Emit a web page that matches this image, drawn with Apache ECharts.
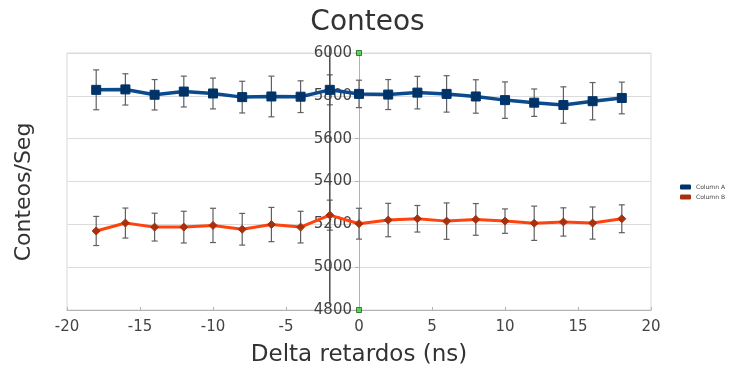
<!DOCTYPE html>
<html><head><meta charset="utf-8">
<script src="https://cdn.jsdelivr.net/npm/echarts@6/dist/echarts.min.js"></script>
<style>html,body{margin:0;padding:0;background:#fff}#c{width:735px;height:372px}</style>
</head><body><div id="c"></div>
<script>
// ---- data ----
const titleText = 'Conteos';
const xName = 'Delta retardos (ns)';
const yName = 'Conteos/Seg';
const seriesNames = ['Column A', 'Column B'];
const xValues = [-18, -16, -14, -12, -10, -8, -6, -4, -2, 0, 2, 4, 6, 8, 10, 12, 14, 16, 18];
const columnA = [5828, 5830, 5805, 5820, 5811, 5794, 5797, 5796, 5828, 5809, 5806, 5815, 5809, 5797, 5780, 5768, 5757, 5775, 5790];
const errorA  = [93, 73, 71, 72, 72, 74, 95, 74, 70, 64, 70, 76, 85, 78, 85, 64, 85, 87, 74];
const columnB = [5169, 5206, 5187, 5187, 5195, 5177, 5199, 5187, 5243, 5203, 5220, 5226, 5215, 5223, 5215, 5205, 5211, 5206, 5226];
const errorB  = [68, 70, 65, 74, 80, 74, 80, 74, 70, 72, 78, 62, 85, 74, 57, 80, 66, 75, 65];
const xMin = -20, xMax = 20, xStep = 5;
const yMin = 4800, yMax = 6000, yStep = 200;
const darkLine = [[-2, 4825, 6030]];          // dark vertical line in the reference
const handlePoints = [[0, 6000], [0, 4800]]; // green selection handles

// ---- build ----
const pairsA = xValues.map((x, i) => [x, columnA[i]]);
const pairsB = xValues.map((x, i) => [x, columnB[i]]);
const errDataA = xValues.map((x, i) => [x, columnA[i] - errorA[i], columnA[i] + errorA[i]]);
const errDataB = xValues.map((x, i) => [x, columnB[i] - errorB[i], columnB[i] + errorB[i]]);

function errRender(params, api) {
  const x = api.value(0), lo = api.value(1), hi = api.value(2);
  const p1 = api.coord([x, hi]), p2 = api.coord([x, lo]);
  const w = 3;
  const st = { stroke: '#606060', lineWidth: 1.2 };
  return { type: 'group', children: [
    { type: 'line', shape: { x1: p1[0], y1: p1[1], x2: p2[0], y2: p2[1] }, style: st },
    { type: 'line', shape: { x1: p1[0] - w, y1: p1[1], x2: p1[0] + w, y2: p1[1] }, style: st },
    { type: 'line', shape: { x1: p2[0] - w, y1: p2[1], x2: p2[0] + w, y2: p2[1] }, style: st }
  ]};
}
function vlineRender(params, api) {
  const x = api.value(0);
  const p1 = api.coord([x, api.value(2)]), p2 = api.coord([x, api.value(1)]);
  return { type: 'line', shape: { x1: p1[0], y1: p1[1], x2: p2[0], y2: p2[1] },
    style: { stroke: '#4d4d4d', lineWidth: 1.5 } };
}

const W = 735, gridLeft = 67, gridRight = 84;
// y axis sits at x = 0 of the x range
const yAxisOffset = -((W - gridLeft - gridRight) * (0 - xMin) / (xMax - xMin));

const font = 'DejaVu Sans';
const chart = echarts.init(document.getElementById('c'), null, { renderer: 'canvas' });
chart.setOption({
  animation: false,
  backgroundColor: '#fff',
  title: { text: titleText, left: 'center', top: 4,
    textStyle: { fontFamily: font, fontSize: 28, fontWeight: 'normal', color: '#333' } },
  legend: {
    data: seriesNames, orient: 'vertical', left: 675, top: 179,
    itemWidth: 11, itemHeight: 5, itemGap: 4, icon: 'roundRect',
    textStyle: { fontFamily: font, fontSize: 6, color: '#444' }
  },
  graphic: [{
    type: 'text', x: 24, y: 192, rotation: Math.PI / 2,
    style: { text: yName, fontFamily: font, fontSize: 22, fill: '#333', align: 'center', verticalAlign: 'middle' }
  }],
  grid: { left: gridLeft, right: gridRight, top: 53, bottom: 61, show: true, borderColor: '#d8d8d8', borderWidth: 1 },
  xAxis: {
    type: 'value', min: xMin, max: xMax, interval: xStep,
    name: xName, nameLocation: 'middle', nameGap: 34,
    nameTextStyle: { fontFamily: font, fontSize: 23, color: '#333' },
    axisLine: { show: true, onZero: false, lineStyle: { color: '#b3b3b3', width: 1 } },
    axisTick: { show: true, inside: true, length: 3, lineStyle: { color: '#b3b3b3' } },
    axisLabel: { fontFamily: font, fontSize: 15, color: '#444', margin: 10 },
    splitLine: { show: false }
  },
  yAxis: {
    type: 'value', min: yMin, max: yMax, interval: yStep, position: 'left', offset: yAxisOffset,
    axisLine: { show: true, onZero: false, lineStyle: { color: '#b3b3b3', width: 1 } },
    axisTick: { show: true, length: 4, lineStyle: { color: '#b3b3b3' } },
    axisLabel: { fontFamily: font, fontSize: 15, color: '#444', margin: 7, formatter: v => String(v) },
    splitLine: { show: true, lineStyle: { color: '#dcdcdc', width: 1 } }
  },
  series: [
    { name: 'errA', type: 'custom', renderItem: errRender, data: errDataA, encode: { x: 0, y: [1, 2] }, z: 1, silent: true },
    { name: 'errB', type: 'custom', renderItem: errRender, data: errDataB, encode: { x: 0, y: [1, 2] }, z: 1, silent: true },
    { name: 'dark', type: 'custom', renderItem: vlineRender, data: darkLine, encode: { x: 0, y: [1, 2] }, z: 2, silent: true, clip: false },
    { name: seriesNames[0], type: 'line', data: pairsA, z: 3,
      symbol: 'rect', symbolSize: 9,
      lineStyle: { color: '#0b4a8c', width: 3.5 },
      itemStyle: { color: '#003468', borderColor: '#003468' },
      color: '#004586'
    },
    { name: seriesNames[1], type: 'line', data: pairsB, z: 3,
      symbol: 'diamond', symbolSize: 8,
      lineStyle: { color: '#ff420e', width: 3 },
      itemStyle: { color: '#a8300c', borderColor: '#a8300c' },
      color: '#ff420e'
    },
    { name: 'handles', type: 'scatter', data: handlePoints, symbol: 'rect', symbolSize: 5, z: 5,
      itemStyle: { color: '#3ad13a', borderColor: '#1d5e1d', borderWidth: 1 }, silent: true }
  ]
});
</script></body></html>
